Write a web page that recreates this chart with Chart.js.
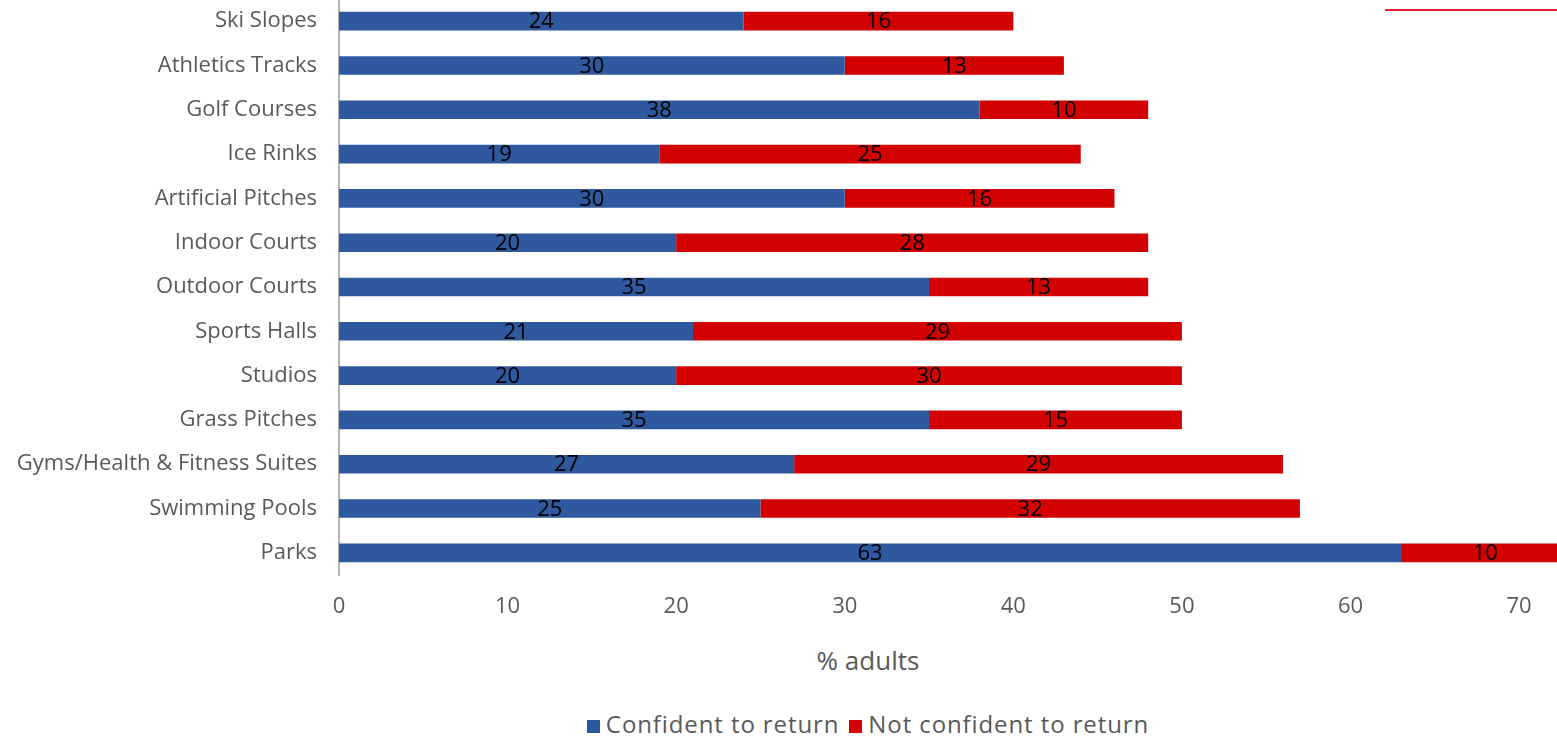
<!DOCTYPE html>
<html>
<head>
<meta charset="utf-8">
<script src="https://cdn.jsdelivr.net/npm/chart.js@4"></script>
<style>
  html, body { margin: 0; padding: 0; background: #fff; overflow: hidden; }
  body { width: 1557px; height: 736px; position: relative; font-family: "Open Sans", sans-serif; }
  #wrap { position: absolute; left: 0; top: -12px; width: 1557px; height: 652px; }
  #axisTitle { position: absolute; top: 643px; left: 0; width: 1736px; text-align: center; color: #595959; font-size: 26px; line-height: 34px; }
  #legend { position: absolute; top: 708px; left: 0; width: 1736px; text-align: center; color: #595959; font-size: 24px; line-height: 32px; letter-spacing: 0.9px; white-space: nowrap; }
  #legend span.item { margin: 0 5px; }
  #legend i { display: inline-block; width: 13px; height: 13px; margin-right: 6px; vertical-align: 0; }
  #topLine { position: absolute; left: 1385px; top: 9px; width: 172px; height: 2px; background: #e3202c; }
</style>
</head>
<body>
<div id="topLine"></div>
<div id="wrap"><canvas id="barChart"></canvas></div>
<div id="axisTitle">% adults</div>
<div id="legend"></div>
<script>
const facilities = [
  "Ski Slopes", "Athletics Tracks", "Golf Courses", "Ice Rinks", "Artificial Pitches",
  "Indoor Courts", "Outdoor Courts", "Sports Halls", "Studios", "Grass Pitches",
  "Gyms/Health & Fitness Suites", "Swimming Pools", "Parks"
];
const confident = [24, 30, 38, 19, 30, 20, 35, 21, 20, 35, 27, 25, 63];
const notConfident = [16, 13, 10, 25, 16, 28, 13, 29, 30, 15, 29, 32, 10];
const seriesNames = ["Confident to return", "Not confident to return"];
const seriesColors = ["#2f599f", "#d20000"];

// value labels in the middle of each bar segment
const barLabels = {
  id: "barLabels",
  afterDatasetsDraw(chart) {
    const ctx = chart.ctx;
    ctx.save();
    ctx.fillStyle = "#000";
    ctx.font = '22px "Open Sans"';
    ctx.textAlign = "center";
    ctx.textBaseline = "middle";
    chart.data.datasets.forEach(function (ds, i) {
      chart.getDatasetMeta(i).data.forEach(function (bar, j) {
        const cx = (bar.x + bar.base) / 2;
        ctx.fillText(String(ds.data[j]), cx, bar.y + 1);
      });
    });
    ctx.restore();
  }
};

const canvas = document.getElementById("barChart");
new Chart(canvas, {
  type: "bar",
  data: {
    labels: facilities,
    datasets: [
      { label: seriesNames[0], data: confident, backgroundColor: seriesColors[0] },
      { label: seriesNames[1], data: notConfident, backgroundColor: seriesColors[1] },
    ],
  },
  options: {
    indexAxis: "y",
    responsive: true,
    maintainAspectRatio: false,
    animation: false,
    layout: { padding: { top: 11, right: 0, left: 0, bottom: 0 } },
    datasets: { bar: { categoryPercentage: 1, barPercentage: 0.42 } },
    scales: {
      x: {
        stacked: true,
        min: 0,
        max: 72.25,
        ticks: { stepSize: 10, includeBounds: false, color: "#595959", font: { family: "Open Sans", size: 22 }, padding: 19 },
        grid: { display: false, drawTicks: false },
        border: { display: false },
        afterFit(scale) { scale.height = 65; },
      },
      y: {
        stacked: true,
        ticks: { color: "#595959", font: { family: "Open Sans", size: 22 }, padding: 22 },
        grid: { display: false, drawTicks: false },
        border: { display: true, color: "#b4b4b4", width: 2 },
        afterFit(scale) {
          scale.width = 339;
          scale.paddingTop = 0;
          scale.paddingBottom = 0;
        },
      },
    },
    plugins: {
      legend: { display: false },
      tooltip: { enabled: false },
    },
  },
  plugins: [barLabels],
});

const legend = document.getElementById("legend");
seriesNames.forEach(function (name, i) {
  const item = document.createElement("span");
  item.className = "item";
  item.innerHTML = '<i style="background:' + seriesColors[i] + '"></i>' + name;
  legend.appendChild(item);
});
</script>
</body>
</html>
